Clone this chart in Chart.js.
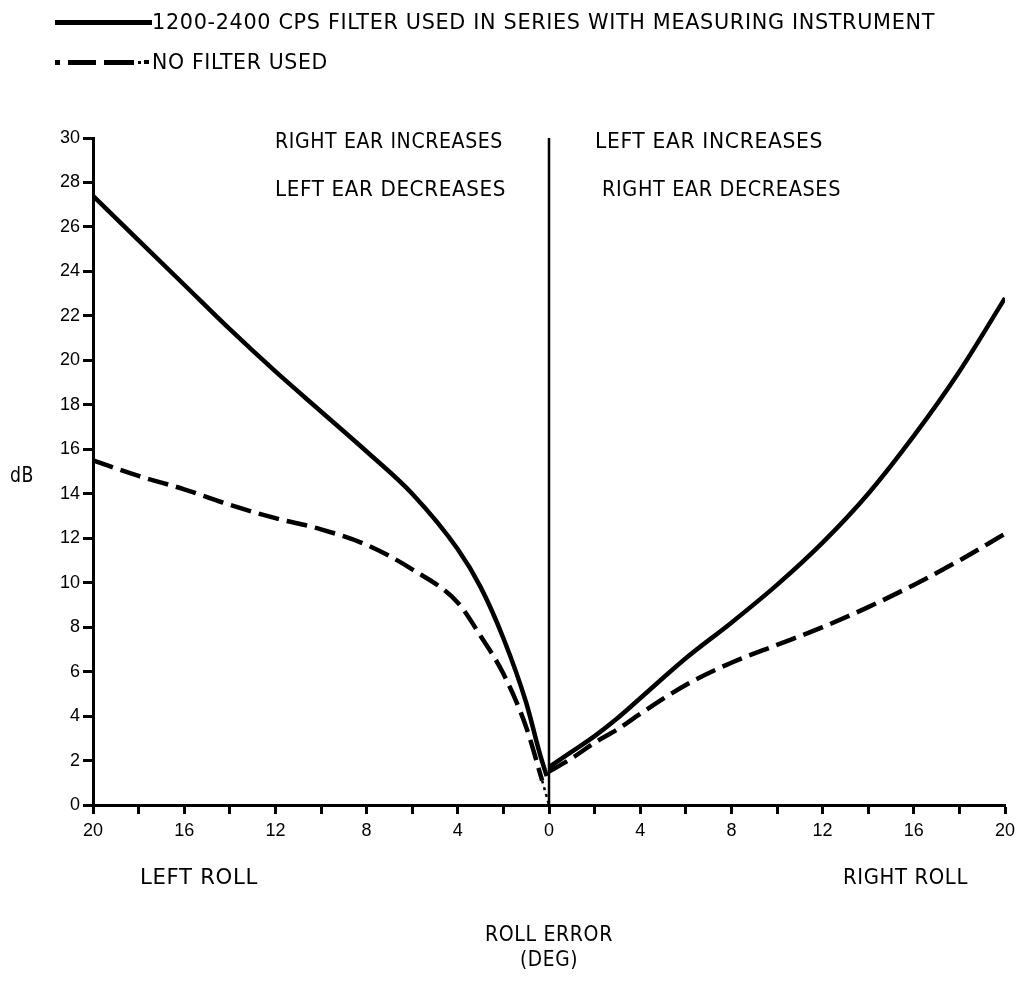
<!DOCTYPE html>
<html>
<head>
<meta charset="utf-8">
<script src="https://cdn.jsdelivr.net/npm/chart.js@4.4.1/dist/chart.umd.min.js"></script>
<style>
  html, body { margin:0; padding:0; background:#fff; }
  #wrap { position:relative; width:1025px; height:1003px; overflow:hidden; }
  #c { position:absolute; left:0; top:0; }
  .t { position:absolute; font-family:"DejaVu Sans Condensed","Liberation Sans Narrow",sans-serif;
       font-size:21px; letter-spacing:0.6px; line-height:24px; color:#000; white-space:nowrap;
       transform-origin:0 50%; }
  .mk { position:absolute; background:#000; }
</style>
</head>
<body>
<div id="wrap">
  <canvas id="c" width="1025" height="1003"></canvas>
</div>
<script>
// ---- data ----
const filterLeftX  = [-20, -18, -16, -14, -12, -10, -8, -6, -4, -3, -2, -1, -0.4, -0.1];
const filterLeftY  = [27.4, 25.4, 23.4, 21.4, 19.5, 17.7, 15.9, 14.0, 11.5, 9.8, 7.5, 4.6, 2.3, 1.3];
const filterRightX = [0, 1, 2, 3, 4, 6, 8, 10, 12, 14, 16, 18, 20];
const filterRightY = [1.7, 2.4, 3.1, 3.9, 4.8, 6.6, 8.2, 9.9, 11.8, 14.0, 16.6, 19.5, 22.8];
const noFilterLeftX  = [-20, -18, -16, -14, -12, -10, -8, -6, -4, -3, -2, -1, -0.3];
const noFilterLeftY  = [15.5, 14.8, 14.2, 13.5, 12.9, 12.4, 11.7, 10.6, 9.1, 7.6, 5.9, 3.5, 1.1];
const noFilterTailX  = [-0.3, 0];
const noFilterTailY  = [1.1, 0];
const noFilterRightX = [0, 1, 2, 3, 4, 6, 8, 10, 12, 14, 16, 18, 20];
const noFilterRightY = [1.5, 2.1, 2.8, 3.4, 4.1, 5.4, 6.4, 7.2, 8.0, 8.9, 9.9, 11.0, 12.2];
const dividerX = [0, 0];
const dividerY = [0, 30];
const xTicks = [-20, -16, -12, -8, -4, 0, 4, 8, 12, 16, 20];
const legendLabels = ["1200-2400 CPS FILTER USED IN SERIES WITH MEASURING INSTRUMENT", "NO FILTER USED"];
const notes = ["RIGHT EAR INCREASES", "LEFT EAR DECREASES", "LEFT EAR INCREASES", "RIGHT EAR DECREASES"];
const rollLabels = ["LEFT ROLL", "RIGHT ROLL"];
const xTitle = ["ROLL ERROR", "(DEG)"];
const yTitle = "dB";

const pts = (xs, ys) => xs.map((x, i) => ({x, y: ys[i]}));

const solid = { borderColor:'#000', borderWidth:4.5, pointRadius:0, fill:false, cubicInterpolationMode:'monotone', borderCapStyle:'butt' };
const dashed = { borderColor:'#000', borderWidth:4.5, pointRadius:0, fill:false, cubicInterpolationMode:'monotone', borderDash:[21,8], borderCapStyle:'butt' };

const tickFont = { family:'"Liberation Sans", Arial, sans-serif', size:18 };

new Chart(document.getElementById('c'), {
  type: 'line',
  data: {
    datasets: [
      Object.assign({ data: pts(filterLeftX, filterLeftY) }, solid),
      Object.assign({ data: pts(filterRightX, filterRightY) }, solid),
      Object.assign({ data: pts(noFilterLeftX, noFilterLeftY) }, dashed),
      Object.assign({ data: pts(noFilterRightX, noFilterRightY) }, dashed),
      { data: pts(noFilterTailX, noFilterTailY), borderColor:'#000', borderWidth:2.5, pointRadius:0, borderDash:[3,4] },
      { data: pts(dividerX, dividerY), borderColor:'#000', borderWidth:2.5, pointRadius:0 }
    ]
  },
  options: {
    responsive:false, animation:false,
    layout: { padding: { top:138, right:20, left:0, bottom:0 } },
    plugins: { legend:{display:false}, tooltip:{enabled:false} },
    scales: {
      x: {
        type:'linear', min:-20, max:20,
        afterBuildTicks: s => { s.ticks = []; for (let v = -20; v <= 20; v += 2) s.ticks.push({value:v}); },
        ticks: { autoSkip:false, maxRotation:0, color:'#000', font:tickFont, padding:6,
                 callback: v => xTicks.includes(v) ? String(Math.abs(v)) : '' },
        grid: { drawOnChartArea:false, drawTicks:true, tickLength:9, tickWidth:3, tickColor:'#000' },
        border: { display:true, color:'#000', width:3 },
        afterFit: s => { s.height = 198; }
      },
      y: {
        type:'linear', min:0, max:30,
        ticks: { stepSize:2, autoSkip:false, color:'#000', font:tickFont, padding:3 },
        grid: { drawOnChartArea:false, drawTicks:true, tickLength:10, tickWidth:3, tickColor:'#000' },
        border: { display:true, color:'#000', width:3 },
        afterFit: s => { s.width = 93; }
      }
    }
  }
});

// ---- text & legend overlay (each text fitted to the width it has in the reference) ----
const wrap = document.getElementById('wrap');
function addText(txt, left, right, cy) {
  const d = document.createElement('div');
  d.className = 't';
  d.textContent = txt;
  d.style.left = left + 'px';
  d.style.top = (cy - 12) + 'px';
  wrap.appendChild(d);
  const natural = d.getBoundingClientRect().width;
  d.style.transform = 'scaleX(' + ((right - left) / natural) + ')';
  return d;
}
function addMark(l, t, w, h) {
  const d = document.createElement('div');
  d.className = 'mk';
  Object.assign(d.style, { left:l+'px', top:t+'px', width:w+'px', height:h+'px' });
  wrap.appendChild(d);
}
// legend
addMark(55, 20, 97, 5);
addText(legendLabels[0], 152, 935, 22);
addMark(55, 60, 5, 5);
addMark(68, 60, 28, 5);
addMark(104, 60, 30, 5);
addMark(138, 61, 3, 3);
addMark(144, 60, 5, 4);
addText(legendLabels[1], 152, 328, 62);
// notes
addText(notes[0], 275, 503, 141);
addText(notes[1], 275, 506, 189);
addText(notes[2], 595, 823, 141);
addText(notes[3], 602, 841, 189);
addText(rollLabels[0], 140, 258, 877);
addText(rollLabels[1], 843, 968, 877);
addText(xTitle[0], 485, 613, 934);
addText(xTitle[1], 520, 578, 959);
addText(yTitle, 10, 34, 475);
</script>
</body>
</html>
